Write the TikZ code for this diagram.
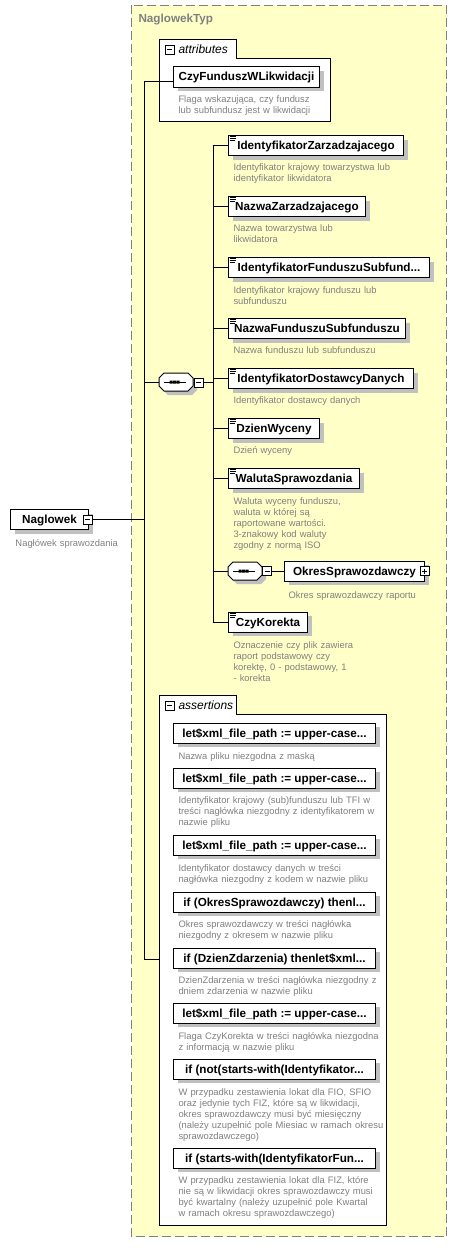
\documentclass[tikz,border=0pt]{standalone}
\usepackage{fontspec}
\setmainfont{Liberation Sans}
\usetikzlibrary{shadows,calc}
\definecolor{bgyel}{RGB}{255,255,200}
\definecolor{descgray}{RGB}{128,128,128}
\definecolor{shgray}{RGB}{192,192,192}
\newcommand{\elicon}[1]{\draw[line width=0.9pt] ($(#1.north west)+(1.5,1.5)$) -- +(6.5,0) ($(#1.north west)+(1.5,3.5)$) -- +(6.5,0) ($(#1.north west)+(1.5,5.5)$) -- +(5.5,0);}
\newcommand{\seqshape}[1]{%
  \fill[shgray, shift={($(#1.center)+(4,4)$)}] (-17,-4) -- (-12,-9) -- (12,-9) -- (17,-4) -- (17,4) -- (12,9) -- (-12,9) -- (-17,4) -- cycle;
  \draw[fill=white, shift={(#1.center)}] (-17,-4) -- (-12,-9) -- (12,-9) -- (17,-4) -- (17,4) -- (12,9) -- (-12,9) -- (-17,4) -- cycle;
  \draw[shift={(#1.center)}] (-12,0) -- (10,0);
  \fill[shift={(#1.center)}] (-6.5,-1.5) rectangle +(3,3) (-3,-1.5) rectangle +(3,3) (0.5,-1.5) rectangle +(3,3);
}
\begin{document}
\begin{tikzpicture}[x=1pt,y=-1pt,line width=1pt,
  elbox/.style={draw=black, line width=1pt, fill=white, minimum height=20pt, inner sep=0pt,
    text height=10.5pt, text depth=2.5pt, font=\fontsize{11.7}{13}\selectfont\bfseries, anchor=west,
    drop shadow={fill=shgray, opacity=1, shadow xshift=4pt, shadow yshift=-4pt}},
  desc/.style={anchor=base west, inner sep=0pt, text width=230pt, align=left, text=descgray,
    font=\fontsize{9.4}{11}\selectfont},
  colbox/.style={draw=black, line width=0.8pt, fill=white, minimum size=9pt, inner sep=0pt,
    path picture={\draw[line width=0.8pt] ($(path picture bounding box.west)+(2,0)$) -- ($(path picture bounding box.east)+(-2,0)$);}},
  expbox/.style={colbox, path picture={\draw[line width=0.8pt] ($(path picture bounding box.west)+(2,0)$) -- ($(path picture bounding box.east)+(-2,0)$) ($(path picture bounding box.north)+(0,2)$) -- ($(path picture bounding box.south)+(0,-2)$);}},
  grplabel/.style={anchor=west, inner sep=0pt, font=\fontsize{12}{13}\selectfont\itshape},
  seqnode/.style={minimum width=34pt, minimum height=18pt, inner sep=0pt}
]
\useasboundingbox (0,0) rectangle (458,1255);
% outer type box
\path[fill=bgyel, draw=descgray, dash pattern=on 9pt off 4pt] (131.5,5.5) rectangle (446.5,1236.5);
\node[anchor=west, inner sep=0pt, text=descgray, font=\fontsize{11.7}{13}\selectfont\bfseries] (title) at (138,20) {NaglowekTyp};

% attributes group
\draw[fill=white] (159.5,121.5) -- (159.5,39.5) -- (236.5,39.5) -- (236.5,58.5) -- (330.5,58.5) -- (330.5,121.5) -- cycle;
\node[colbox] (attrc) at (169.5,49.5) {};
\node[grplabel] (attrl) at (178,49.5) {attributes};
\node[elbox, minimum width=146pt] (czyf) at (173,77) {CzyFunduszWLikwidacji};
\node[desc] (czyfd) at (178,102.5) {Flaga wskazująca, czy fundusz\\lub subfundusz jest w likwidacji};

% assertions group
\draw[fill=white] (159.5,1225.5) -- (159.5,695.5) -- (236.5,695.5) -- (236.5,714.5) -- (386.5,714.5) -- (386.5,1225.5) -- cycle;
\node[colbox] (asc) at (169.5,705.5) {};
\node[grplabel] (asl) at (178,705.5) {assertions};

% root element
\node[elbox, minimum width=78pt] (nag) at (10,519.5) {Naglowek\hspace{4pt}};
\node[colbox] (nagc) at (87.5,519.5) {};
\node[desc] (nagd) at (15,546) {Nagłówek sprawozdania};

% trunk 1
\coordinate (t1top) at (144,81);
\coordinate (t1bot) at (144,959);
\coordinate (asgw) at (159.5,959);
\draw (czyf.west |- t1top) -- (t1top) -- (t1bot) -- (asgw);
\draw (nagc.east) -- (nagc.east -| t1top);

% sequence 1
\node[seqnode] (seq1) at (176,382) {};
\seqshape{seq1}
\node[colbox] (seq1c) at (198.5,382.5) {};
\draw (t1top |- seq1.west) -- (seq1.west);
\coordinate (t2top) at (213,145.5);
\coordinate (t2bot) at (213,622);
\draw (seq1c.east) -- (seq1c.east -| t2top);
\draw (t2top) -- (t2bot);

% children of sequence 1
\node[elbox, minimum width=175pt] (e1) at (228,145.5) {IdentyfikatorZarzadzajacego};
\node[elbox, minimum width=137pt] (e2) at (228,206.5) {NazwaZarzadzajacego};
\node[elbox, minimum width=201pt] (e3) at (228,267.5) {IdentyfikatorFunduszuSubfund...};
\node[elbox, minimum width=177pt] (e4) at (228,328.5) {NazwaFunduszuSubfunduszu};
\node[elbox, minimum width=185pt] (e5) at (228,378.5) {IdentyfikatorDostawcyDanych};
\node[elbox, minimum width=91pt] (e6) at (228,428.5) {DzienWyceny};
\node[elbox, minimum width=131pt] (e7) at (228,478.5) {WalutaSprawozdania};
\node[elbox, minimum width=79pt] (e9) at (228,622) {CzyKorekta};
\foreach \n in {e1,e2,e3,e4,e5,e6,e7,e9} {\elicon{\n} \draw (t2top |- \n.west) -- (\n.west);}

\node[desc] (e1d) at (233,170.7) {Identyfikator krajowy towarzystwa lub\\identyfikator likwidatora};
\node[desc] (e2d) at (233,231.7) {Nazwa towarzystwa lub\\likwidatora};
\node[desc] (e3d) at (233,293) {Identyfikator krajowy funduszu lub\\subfunduszu};
\node[desc] (e4d) at (233,353.7) {Nazwa funduszu lub subfunduszu};
\node[desc] (e5d) at (233,403.7) {Identyfikator dostawcy danych};
\node[desc] (e6d) at (233,453.7) {Dzień wyceny};
\node[desc] (e7d) at (233,504) {Waluta wyceny funduszu,\\waluta w której są\\raportowane wartości.\\3-znakowy kod waluty\\zgodny z normą ISO};
\node[desc] (e9d) at (233,648) {Oznaczenie czy plik zawiera\\raport podstawowy czy\\korektę, 0 - podstawowy, 1\\- korekta};

% sequence 2
\node[seqnode] (seq2) at (245,571) {};
\seqshape{seq2}
\node[colbox] (seq2c) at (267,571) {};
\draw (t2top |- seq2.west) -- (seq2.west);
\node[elbox, minimum width=140pt] (okres) at (284,571) {OkresSprawozdawczy\hspace{4pt}};
\node[expbox] (okresx) at (424.5,571) {};
\draw (seq2c.east) -- (okres.west);
\node[desc] (okresd) at (288,598) {Okres sprawozdawczy raportu};

% assertions
\node[elbox, minimum width=202pt] (a1) at (173,733) {let\$xml\_file\_path := upper-case...};
\node[elbox, minimum width=202pt] (a2) at (173,778) {let\$xml\_file\_path := upper-case...};
\node[elbox, minimum width=202pt] (a3) at (173,845) {let\$xml\_file\_path := upper-case...};
\node[elbox, minimum width=202pt] (a4) at (173,902) {if (OkresSprawozdawczy) thenl...};
\node[elbox, minimum width=202pt] (a5) at (173,958) {if (DzienZdarzenia) thenlet\$xml...};
\node[elbox, minimum width=202pt] (a6) at (173,1013) {let\$xml\_file\_path := upper-case...};
\node[elbox, minimum width=202pt] (a7) at (173,1069) {if (not(starts-with(Identyfikator...};
\node[elbox, minimum width=202pt] (a8) at (173,1158) {if (starts-with(IdentyfikatorFun...};

\node[desc] (a1d) at (178,759) {Nazwa pliku niezgodna z maską};
\node[desc] (a2d) at (178,803) {Identyfikator krajowy (sub)funduszu lub TFI w\\treści nagłówka niezgodny z identyfikatorem w\\nazwie pliku};
\node[desc] (a3d) at (178,871) {Identyfikator dostawcy danych w treści\\nagłówka niezgodny z kodem w nazwie pliku};
\node[desc] (a4d) at (178,927) {Okres sprawozdawczy w treści nagłówka\\niezgodny z okresem w nazwie pliku};
\node[desc] (a5d) at (178,983) {DzienZdarzenia w treści nagłówka niezgodny z\\dniem zdarzenia w nazwie pliku};
\node[desc] (a6d) at (178,1039) {Flaga CzyKorekta w treści nagłówka niezgodna\\z informacją w nazwie pliku};
\node[desc] (a7d) at (178,1095) {W przypadku zestawienia lokat dla FIO, SFIO\\oraz jedynie tych FIZ, które są w likwidacji,\\okres sprawozdawczy musi być miesięczny\\(należy uzupełnić pole Miesiac w ramach okresu\\sprawozdawczego)};
\node[desc] (a8d) at (178,1183) {W przypadku zestawienia lokat dla FIZ, które\\nie są w likwidacji okres sprawozdawczy musi\\być kwartalny (należy uzupełnić pole Kwartal\\w ramach okresu sprawozdawczego)};
\end{tikzpicture}
\end{document}
